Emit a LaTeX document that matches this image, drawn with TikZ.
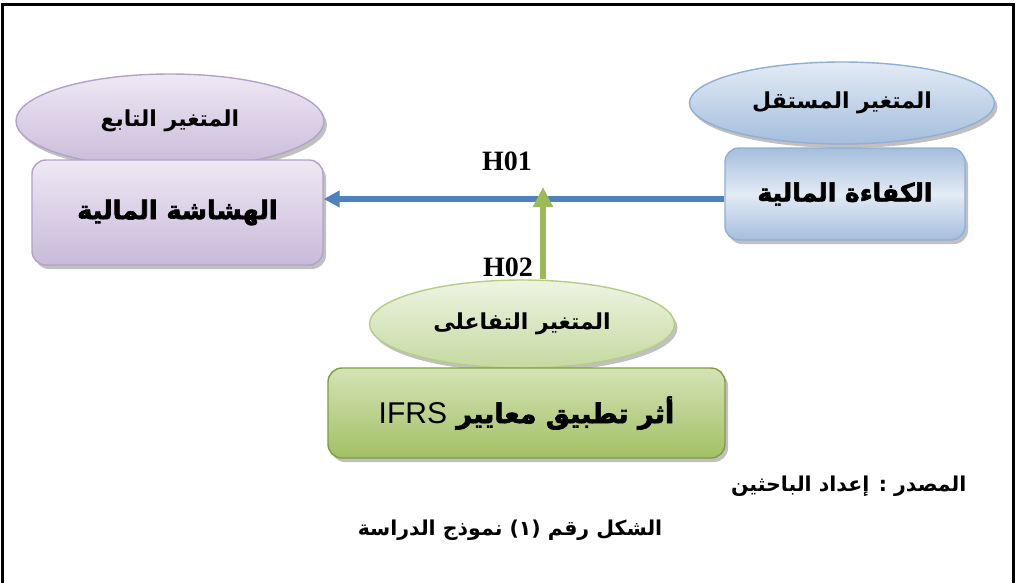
\documentclass[tikz,border=0pt]{standalone}
\usepackage{fontspec}
\usetikzlibrary{shapes.geometric,shadows,arrows.meta}
\TeXXeTstate=1
\newfontfamily\arabicfont[Script=Arabic]{DejaVu Sans}
\newfontfamily\arabicheavy[Script=Arabic,FakeBold=2.5]{DejaVu Sans Bold}
\newfontfamily\latinserif{Liberation Serif}
\newfontfamily\latinsans{Liberation Sans}
\definecolor{purpleA}{HTML}{EEE8F4}
\definecolor{purpleB}{HTML}{C9BADA}
\definecolor{purpleD}{HTML}{B3A2C7}
\definecolor{blueA}{HTML}{E3EBF5}
\definecolor{blueB}{HTML}{A4BEDD}
\definecolor{blueD}{HTML}{8FAFD6}
\definecolor{blueArrow}{HTML}{4F81BD}
\definecolor{greenA}{HTML}{EEF4E2}
\definecolor{greenB}{HTML}{C5D9A0}
\definecolor{greenD}{HTML}{B5CD85}
\definecolor{greenC}{HTML}{D4E3B6}
\definecolor{greenE}{HTML}{A2C064}
\definecolor{greenF}{HTML}{7E9E40}
\definecolor{greenArrow}{HTML}{9BBB59}
\tikzset{
  shadowed/.style={drop shadow={shadow xshift=3pt,shadow yshift=-4pt,opacity=0.35,fill=black!70}},
  ellnode/.style={ellipse,line width=1.4pt,shadowed,inner sep=0pt},
  boxnode/.style={rectangle,rounded corners=14pt,line width=1.4pt,shadowed,inner sep=0pt},
  smalltxt/.style={font=\arabicfont\bfseries\fontsize{22}{25}\selectfont},
  bigtxt/.style={font=\arabicheavy\fontsize{#1}{30}\selectfont},
  hlabel/.style={font=\latinserif\bfseries\fontsize{28}{30}\selectfont},
  captxt/.style={font=\arabicfont\bfseries\fontsize{20.5}{24}\selectfont},
  conn/.style={line width=#1}
}
\begin{document}
\begin{tikzpicture}[x=1pt,y=-1pt]
\useasboundingbox (0,0) rectangle (1018,582);
\fill[white] (0,0) rectangle (1018,582);
\draw[line width=3pt] (2,600) -- (2,4) -- (1013,4) -- (1013,600);

% left: dependent variable
\node[ellnode,draw=purpleD,top color=purpleA,bottom color=purpleB,minimum width=308pt,minimum height=94pt,smalltxt] (tabi) at (170,121) {\beginR المتغير التابع\endR};
\node[boxnode,draw=purpleD,top color=purpleA,bottom color=purpleB,minimum width=291pt,minimum height=105pt,bigtxt=25.5] (hash) at (177.5,212.5) {\beginR الهشاشة المالية\endR};

% right: independent variable
\node[ellnode,draw=blueD,top color=blueA,bottom color=blueB,minimum width=305pt,minimum height=82pt,smalltxt] (mustaqil) at (842,103) {\beginR المتغير المستقل\endR};
\node[boxnode,draw=blueD,top color=blueB,bottom color=blueB,middle color=blueA,minimum width=240pt,minimum height=92pt,bigtxt=25] (kafaa) at (845,194) {\beginR الكفاءة المالية\endR};

% bottom: interaction variable
\node[ellnode,draw=greenD,top color=greenA,bottom color=greenB,minimum width=305pt,minimum height=88pt,smalltxt] (tafaul) at (522,324) {\beginR المتغير التفاعلى\endR};
\node[boxnode,draw=greenF,top color=greenC,bottom color=greenE,minimum width=397pt,minimum height=90pt,bigtxt=27] (ifrs) at (526.5,413) {\beginR أثر تطبيق معايير \beginL{\latinsans\fontsize{30}{32}\selectfont IFRS}\endL\endR};

% connectors
\coordinate (tip) at (543,187);
\draw[conn=6pt,draw=blueArrow,-{Triangle[length=16pt,width=16pt,fill=blueArrow]}] ([yshift=-5pt]kafaa.west) -- ([yshift=13.5pt]hash.east);
\draw[conn=5.5pt,draw=greenArrow,-{Triangle[length=20pt,width=19pt,fill=greenArrow]}] (tip |- tafaul.north) -- (tip);

\node[hlabel] (h1) at (507,161) {H01};
\node[hlabel] (h2) at (508,267) {H02};

% source and caption
\node[captxt,anchor=east] (src) at (970,486) {\beginR المصدر : إعداد الباحثين\endR};
\node[captxt] (cap) at (510,530) {\beginR الشكل رقم (١) نموذج الدراسة\endR};
\end{tikzpicture}
\end{document}
